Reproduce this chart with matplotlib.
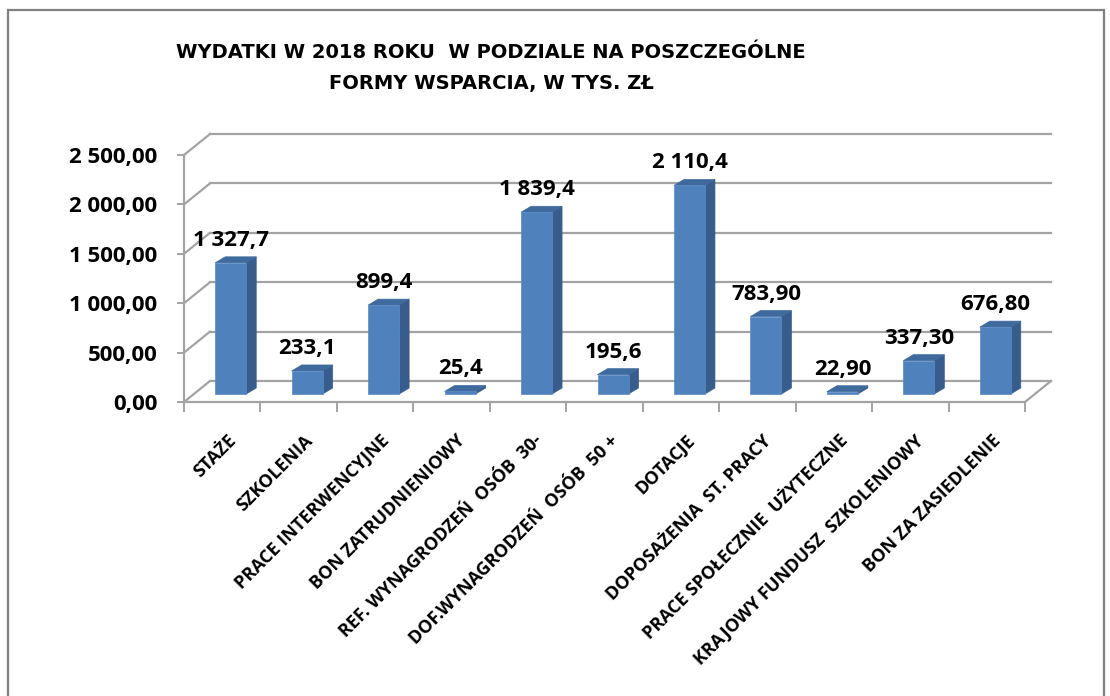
import matplotlib
matplotlib.use("Agg")
import matplotlib.pyplot as plt
from matplotlib.patches import Polygon, Rectangle

# data
categories = ["STAŻE", "SZKOLENIA", "PRACE INTERWENCYJNE", "BON ZATRUDNIENIOWY",
              "REF. WYNAGRODZEŃ  OSÓB  30-", "DOF.WYNAGRODZEŃ  OSÓB  50 +", "DOTACJE",
              "DOPOSAŻENIA  ST. PRACY", "PRACE SPOŁECZNIE  UŻYTECZNE",
              "KRAJOWY FUNDUSZ  SZKOLENIOWY", "BON ZA ZASIEDLENIE"]
values = [1327.7, 233.1, 899.4, 25.4, 1839.4, 195.6, 2110.4, 783.9, 22.9, 337.3, 676.8]
value_labels = ["1 327,7", "233,1", "899,4", "25,4", "1 839,4", "195,6", "2 110,4",
                "783,90", "22,90", "337,30", "676,80"]
yticks = [0, 500, 1000, 1500, 2000, 2500]
ytick_labels = ["0,00", "500,00", "1 000,00", "1 500,00", "2 000,00", "2 500,00"]
title = "WYDATKI W 2018 ROKU  W PODZIALE NA POSZCZEGÓLNE\nFORMY WSPARCIA, W TYS. ZŁ"

FONT = ["Open Sans", "DejaVu Sans"]
plt.rcParams['font.family'] = FONT

W, H = 1110, 696
fig = plt.figure(figsize=(W / 100, H / 100), dpi=100)
ax = fig.add_axes([184 / W, (H - 402) / H, (1025 - 184) / W, (402 - 155) / H])
n = len(values)
ax.set_xlim(0, n)
ax.set_ylim(0, 2500)

# pixel -> data helpers
px_x = n / (1025 - 184)
px_y = 2500 / (402 - 155)

# 3d wall depth
DX, DY = 26 * px_x, 21 * px_y
grid_c = "#a3a3a3"
for v in yticks:
    ax.plot([DX, n + DX], [v + DY, v + DY], color=grid_c, lw=1.6, zorder=1, clip_on=False)
    ax.plot([0, DX], [v, v + DY], color=grid_c, lw=1.6, zorder=1, clip_on=False)
ax.plot([n, n + DX], [0, DY], color=grid_c, lw=1.6, zorder=1, clip_on=False)

# bars
bw = 31 * px_x
bdx, bdy = 10 * px_x, 6 * px_y
offx, offy = 8.5 * px_x, 8 * px_y
front_c, side_c, top_c = "#4f81bd", "#385d8c", "#3f6a9e"
for i, v in enumerate(values):
    x0 = i + 0.5 + offx - bw / 2
    y0 = offy
    x1, y1 = x0 + bw, y0 + v
    ax.add_patch(Polygon([(x1, y0), (x1 + bdx, y0 + bdy), (x1 + bdx, y1 + bdy), (x1, y1)],
                         closed=True, fc=side_c, ec=side_c, lw=0.5, zorder=3, clip_on=False))
    ax.add_patch(Polygon([(x0, y1), (x0 + bdx, y1 + bdy), (x1 + bdx, y1 + bdy), (x1, y1)],
                         closed=True, fc=top_c, ec=top_c, lw=0.5, zorder=3, clip_on=False))
    ax.add_patch(Rectangle((x0, y0), bw, v, fc=front_c, ec="#5a8ac4", lw=0.5, zorder=4,
                           clip_on=False))
    ax.text(i + 0.5 + offx, y1 + 17 * px_y, value_labels[i], ha="center", va="baseline",
            fontsize=16, fontweight="bold", zorder=5, clip_on=False)

# category labels
for i, c in enumerate(categories):
    ax.text(i + 0.5 + 11 * px_x, -36 * px_y, c, rotation=45, rotation_mode="anchor",
            ha="right", va="center", fontsize=13, fontweight="bold", clip_on=False)

for s in ["top", "right"]:
    ax.spines[s].set_visible(False)
for s in ["left", "bottom"]:
    ax.spines[s].set_color(grid_c)
    ax.spines[s].set_linewidth(1.6)
ax.set_yticks(yticks)
ax.set_yticklabels(ytick_labels, fontsize=16, fontweight="bold")
ax.set_xticks(range(n + 1))
ax.set_xticklabels([])
ax.tick_params(axis="y", length=5, width=1.4, color=grid_c, pad=14)
ax.tick_params(axis="x", length=7, width=1.4, color=grid_c)
ax.patch.set_visible(False)

fig.text(491 / W, 1 - 68 / H, title, ha="center", va="center", fontsize=14,
         fontweight="bold", linespacing=1.75, family=["DejaVu Sans"])

# outer frame
fig.patches.append(Rectangle((8 / W, -0.05), (1104 - 8) / W, (H - 10) / H + 0.05,
                             transform=fig.transFigure, fill=False, ec="#808080", lw=1.6))

fig.savefig("out.png", dpi=100)
